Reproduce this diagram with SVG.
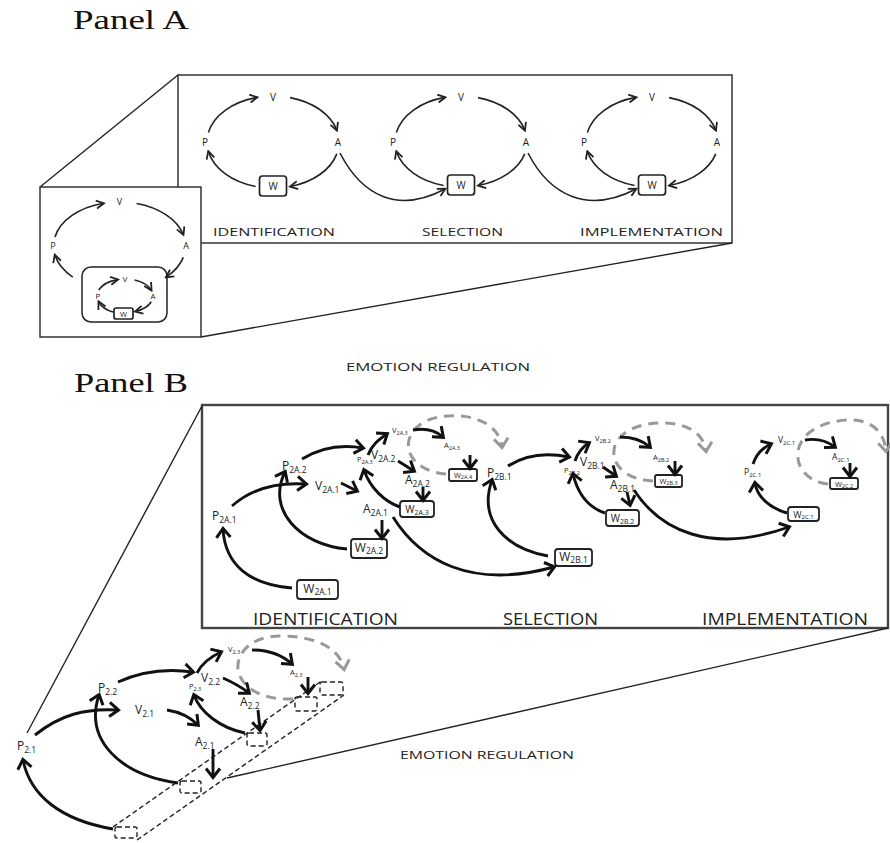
<svg xmlns="http://www.w3.org/2000/svg" width="890" height="843" viewBox="0 0 890 843">
  <style>
    .title { font-family: "Liberation Serif", "Times New Roman", serif; font-size: 27px; fill: #111; }
    .lab { font-family: "Open Sans", "DejaVu Sans", sans-serif; fill: #222; }
    .a10 { font-size: 10px; }
    .a9 { font-size: 9px; }
    .a8 { font-size: 8px; }
    .cap { font-family: "Open Sans", "DejaVu Sans", sans-serif; fill: #222; }
    .m { font-size: 12px; }
    .m tspan { font-size: 8.5px; }
    .n { font-size: 10px; }
    .n tspan { font-size: 7px; }
    .s { font-size: 7.5px; }
    .s tspan { font-size: 5.5px; }
    .frame { fill: #fff; stroke: #333; stroke-width: 1.5; }
    .frameB { fill: #fff; stroke: #444; stroke-width: 2.4; }
    .ray { fill: none; stroke: #222; stroke-width: 1.4; }
    .wa { fill: #fff; stroke: #222; stroke-width: 1.7; }
    .wb { fill: #fff; stroke: #222; stroke-width: 1.8; }
    .ca { fill: none; stroke: #222; stroke-width: 1.6; marker-end: url(#ah); }
    .cb { fill: none; stroke: #111; stroke-width: 2.9; marker-end: url(#chev); }
    .gd { fill: none; stroke: #999; stroke-width: 3; stroke-dasharray: 10 7; marker-end: url(#gchev); }
    .db { fill: none; stroke: #222; stroke-width: 1.4; stroke-dasharray: 5 3; }
  </style>
  <defs>
    <marker id="ah" markerUnits="userSpaceOnUse" viewBox="0 0 10 10" markerWidth="10" markerHeight="10" refX="8" refY="5" orient="auto">
      <path d="M0.8,1 L8.5,5 L0.8,9" fill="none" stroke="#222" stroke-width="1.8"/>
    </marker>
    <marker id="chev" markerUnits="userSpaceOnUse" viewBox="0 0 18 18" markerWidth="18" markerHeight="18" refX="11.5" refY="9" orient="auto">
      <path d="M3,2 L12,9 L3,16" fill="none" stroke="#111" stroke-width="3"/>
    </marker>
    <marker id="gchev" markerUnits="userSpaceOnUse" viewBox="0 0 18 18" markerWidth="18" markerHeight="18" refX="11.5" refY="9" orient="auto">
      <path d="M3,2 L12,9 L3,16" fill="none" stroke="#999" stroke-width="3"/>
    </marker>
  </defs>

  <rect width="890" height="843" fill="#fff"/>

  <!-- ============ PANEL A ============ -->
  <text class="title" x="73" y="29" textLength="116" lengthAdjust="spacingAndGlyphs">Panel A</text>

  <!-- magnified frame and zoom rays -->
  <rect class="frame" x="178" y="75" width="554" height="168"/>
  <line class="ray" x1="40" y1="187" x2="178" y2="75"/>
  <line class="ray" x1="201" y1="337" x2="732" y2="243"/>
  <rect class="frame" x="40" y="187" width="161" height="150"/>

  <!-- nested cycle (overview) -->
  <g id="a-overview">
    <g id="a0-V"><text class="lab a9" x="119.5" y="205" text-anchor="middle">V</text></g>
    <g id="a0-P"><text class="lab a9" x="53" y="249" text-anchor="middle">P</text></g>
    <g id="a0-A"><text class="lab a9" x="186" y="249" text-anchor="middle">A</text></g>
    <g id="a0-inner">
      <rect x="82" y="267" width="85" height="55" rx="9" fill="#fff" stroke="#222" stroke-width="1.5"/>
      <g id="a0i-V"><text class="lab a8" x="125" y="282" text-anchor="middle">V</text></g>
      <g id="a0i-P"><text class="lab a8" x="98" y="299" text-anchor="middle">P</text></g>
      <g id="a0i-A"><text class="lab a8" x="153" y="299" text-anchor="middle">A</text></g>
      <g id="a0i-W">
        <rect class="wa" x="114" y="308" width="19" height="11" rx="2"/>
        <text class="lab" font-size="7.5" x="123.5" y="316.5" text-anchor="middle">W</text>
      </g>
    </g>
  </g>

  <!-- cycle 1 -->
  <g id="a1-V"><text class="lab a10" x="273" y="101" text-anchor="middle">V</text></g>
  <g id="a1-P"><text class="lab a10" x="205" y="146" text-anchor="middle">P</text></g>
  <g id="a1-A"><text class="lab a10" x="338" y="146" text-anchor="middle">A</text></g>
  <g id="a1-W"><rect class="wa" x="259.5" y="176" width="27" height="20" rx="3"/><text class="lab a10" x="273" y="190" text-anchor="middle">W</text></g>

  <!-- cycle 2 -->
  <g id="a2-V"><text class="lab a10" x="461" y="101" text-anchor="middle">V</text></g>
  <g id="a2-P"><text class="lab a10" x="393" y="146" text-anchor="middle">P</text></g>
  <g id="a2-A"><text class="lab a10" x="526" y="146" text-anchor="middle">A</text></g>
  <g id="a2-W"><rect class="wa" x="447.5" y="175" width="27" height="20" rx="3"/><text class="lab a10" x="461" y="189" text-anchor="middle">W</text></g>

  <!-- cycle 3 -->
  <g id="a3-V"><text class="lab a10" x="652" y="101" text-anchor="middle">V</text></g>
  <g id="a3-P"><text class="lab a10" x="584" y="146" text-anchor="middle">P</text></g>
  <g id="a3-A"><text class="lab a10" x="717" y="146" text-anchor="middle">A</text></g>
  <g id="a3-W"><rect class="wa" x="638.5" y="175" width="27" height="20" rx="3"/><text class="lab a10" x="652" y="189" text-anchor="middle">W</text></g>

  <g id="a-captions">
    <text class="cap" font-size="11.5" x="213" y="236" textLength="122" lengthAdjust="spacingAndGlyphs">IDENTIFICATION</text>
    <text class="cap" font-size="11.5" x="422" y="236" textLength="81" lengthAdjust="spacingAndGlyphs">SELECTION</text>
    <text class="cap" font-size="11.5" x="580" y="236" textLength="143" lengthAdjust="spacingAndGlyphs">IMPLEMENTATION</text>
    <text class="cap" font-size="10.5" x="346" y="371" textLength="184" lengthAdjust="spacingAndGlyphs">EMOTION REGULATION</text>
  </g>

  <g id="a-connectors">
    <!-- overview outer loop -->
    <path class="ca" d="M55,236.9 A66,44 0 0 1 103.5,203.3"/>
    <path class="ca" d="M136.6,203.5 A66,44 0 0 1 183.3,234.6"/>
    <path class="ca" d="M183.3,257.4 A66,44 0 0 1 166.2,277.1"/>
    <path class="ca" d="M72.8,277.1 A66,44 0 0 1 54.9,255.1"/>
    <!-- overview inner loop -->
    <path class="ca" d="M98.7,290.2 A28,17 0 0 1 117.8,279.6"/>
    <path class="ca" d="M134.6,280 A28,17 0 0 1 151.3,290.2"/>
    <path class="ca" d="M151.3,301.8 A28,17 0 0 1 135.5,311.5"/>
    <path class="ca" d="M113,312 A28,17 0 0 1 98.7,301.8"/>
    <!-- cycle 1 -->
    <path class="ca" d="M208.4,132.4 A66,46 0 0 1 257,97.4"/>
    <path class="ca" d="M290.1,97.6 A66,46 0 0 1 336.8,130.1"/>
    <path class="ca" d="M336.8,153.9 A66,46 0 0 1 290.4,186.5"/>
    <path class="ca" d="M255.6,186.5 A66,46 0 0 1 208.4,151.6"/>
    <!-- cycle 2 -->
    <path class="ca" d="M396.4,132.4 A66,46 0 0 1 445,97.4"/>
    <path class="ca" d="M478.1,97.6 A66,46 0 0 1 524.8,130.1"/>
    <path class="ca" d="M524.8,153.9 A66,46 0 0 1 478.4,185.5"/>
    <path class="ca" d="M443.6,185.5 A66,46 0 0 1 396.4,151.6"/>
    <!-- cycle 3 -->
    <path class="ca" d="M587.4,132.4 A66,46 0 0 1 636,97.4"/>
    <path class="ca" d="M669.1,97.6 A66,46 0 0 1 715.8,130.1"/>
    <path class="ca" d="M715.8,153.9 A66,46 0 0 1 669.4,185.5"/>
    <path class="ca" d="M634.6,185.5 A66,46 0 0 1 587.4,151.6"/>
    <!-- hand-offs between stages -->
    <path class="ca" d="M340,153 C362,196 398,214 445,189"/>
    <path class="ca" d="M528,153 C550,196 588,214 636,189"/>
  </g>

  <!-- ============ PANEL B ============ -->
  <text class="title" x="74" y="392" textLength="114" lengthAdjust="spacingAndGlyphs">Panel B</text>

  <rect class="frameB" x="202" y="405" width="686" height="223"/>
  <line class="ray" x1="27" y1="733" x2="202" y2="406" stroke-width="1.8"/>
  <line class="ray" x1="227" y1="778" x2="888" y2="628" stroke-width="1.8"/>

  <!-- stage A nodes -->
  <g id="b-P2A1"><text class="lab m" x="212" y="520">P<tspan dy="3">2A.1</tspan></text></g>
  <g id="b-W2A1"><rect class="wb" x="297" y="580" width="41" height="19" rx="3"/><text class="lab m" x="317.5" y="593" text-anchor="middle">W<tspan dy="2">2A.1</tspan></text></g>
  <g id="b-P2A2"><text class="lab m" x="282" y="470">P<tspan dy="3">2A.2</tspan></text></g>
  <g id="b-V2A1"><text class="lab m" x="315" y="490">V<tspan dy="3">2A.1</tspan></text></g>
  <g id="b-A2A1"><text class="lab m" x="363" y="513">A<tspan dy="3">2A.1</tspan></text></g>
  <g id="b-W2A2"><rect class="wb" x="351" y="539" width="36" height="19" rx="3"/><text class="lab m" x="369" y="552" text-anchor="middle">W<tspan dy="2">2A.2</tspan></text></g>
  <g id="b-P2A3"><text class="lab s" x="357" y="462">P<tspan dy="2">2A.3</tspan></text></g>
  <g id="b-V2A2"><text class="lab m" x="371" y="459">V<tspan dy="3">2A.2</tspan></text></g>
  <g id="b-V2A3"><text class="lab s" x="392" y="433">V<tspan dy="2">2A.3</tspan></text></g>
  <g id="b-A2A2"><text class="lab m" x="405" y="484">A<tspan dy="3">2A.2</tspan></text></g>
  <g id="b-W2A3"><rect class="wb" x="400" y="501" width="34" height="16" rx="3"/><text class="lab n" x="417" y="513" text-anchor="middle">W<tspan dy="1.5">2A.3</tspan></text></g>
  <g id="b-A2A3"><text class="lab s" x="444" y="448">A<tspan dy="2">2A.3</tspan></text></g>
  <g id="b-W2A4"><rect class="wb" x="449" y="469" width="28" height="12" rx="2"/><text class="lab s" x="463" y="478" text-anchor="middle">W<tspan dy="1">2A.4</tspan></text></g>

  <!-- stage B nodes -->
  <g id="b-P2B1"><text class="lab m" x="487" y="477">P<tspan dy="3">2B.1</tspan></text></g>
  <g id="b-W2B1"><rect class="wb" x="555" y="549" width="37" height="17" rx="3"/><text class="lab m" x="573.5" y="561" text-anchor="middle">W<tspan dy="2">2B.1</tspan></text></g>
  <g id="b-V2B1"><text class="lab m" x="580" y="466">V<tspan dy="3">2B.1</tspan></text></g>
  <g id="b-P2B2"><text class="lab s" x="564" y="473">P<tspan dy="2">2B.2</tspan></text></g>
  <g id="b-V2B2"><text class="lab s" x="595" y="441">V<tspan dy="2">2B.2</tspan></text></g>
  <g id="b-A2B1"><text class="lab m" x="610" y="489">A<tspan dy="3">2B.1</tspan></text></g>
  <g id="b-W2B2"><rect class="wb" x="606" y="510" width="33" height="16" rx="3"/><text class="lab n" x="622.5" y="522" text-anchor="middle">W<tspan dy="1.5">2B.2</tspan></text></g>
  <g id="b-A2B2"><text class="lab s" x="653" y="460">A<tspan dy="2">2B.2</tspan></text></g>
  <g id="b-W2B3"><rect class="wb" x="655" y="475" width="27" height="12" rx="2"/><text class="lab s" x="668.5" y="484" text-anchor="middle">W<tspan dy="1">2B.3</tspan></text></g>

  <!-- stage C nodes -->
  <g id="b-P2C1"><text class="lab" font-size="8.5" x="744" y="475">P<tspan font-size="6" dy="2">2C.1</tspan></text></g>
  <g id="b-W2C1"><rect class="wb" x="788" y="507" width="31" height="14" rx="3"/><text class="lab" font-size="9" x="803.5" y="517.5" text-anchor="middle">W<tspan font-size="6" dy="1">2C.1</tspan></text></g>
  <g id="b-V2C1"><text class="lab" font-size="8.5" x="778" y="443">V<tspan font-size="6" dy="2">2C.1</tspan></text></g>
  <g id="b-A2C1"><text class="lab" font-size="8.5" x="832" y="460">A<tspan font-size="6" dy="2">2C.1</tspan></text></g>
  <g id="b-W2C2"><rect class="wb" x="830" y="478" width="28" height="11" rx="2"/><text class="lab s" x="844" y="486.5" text-anchor="middle">W<tspan dy="1">2C.2</tspan></text></g>

  <g id="b-captions">
    <text class="cap" font-size="16" x="253" y="625" textLength="145" lengthAdjust="spacingAndGlyphs">IDENTIFICATION</text>
    <text class="cap" font-size="16" x="503" y="625" textLength="95" lengthAdjust="spacingAndGlyphs">SELECTION</text>
    <text class="cap" font-size="16" x="702" y="625" textLength="166" lengthAdjust="spacingAndGlyphs">IMPLEMENTATION</text>
    <text class="cap" font-size="11" x="400" y="759" textLength="174" lengthAdjust="spacingAndGlyphs">EMOTION REGULATION</text>
  </g>

  <!-- overview cluster nodes -->
  <g id="c-P21"><text class="lab m" x="17" y="750">P<tspan dy="3">2.1</tspan></text></g>
  <g id="c-P22"><text class="lab m" x="98" y="692">P<tspan dy="3">2.2</tspan></text></g>
  <g id="c-V21"><text class="lab m" x="135" y="714">V<tspan dy="3">2.1</tspan></text></g>
  <g id="c-P23"><text class="lab s" x="189" y="689">P<tspan dy="2">2.3</tspan></text></g>
  <g id="c-V22"><text class="lab m" x="201" y="682">V<tspan dy="3">2.2</tspan></text></g>
  <g id="c-V23"><text class="lab s" x="228" y="652">V<tspan dy="2">2.3</tspan></text></g>
  <g id="c-A23"><text class="lab s" x="290" y="675">A<tspan dy="2">2.3</tspan></text></g>
  <g id="c-A22"><text class="lab m" x="240" y="706">A<tspan dy="3">2.2</tspan></text></g>
  <g id="c-A21"><text class="lab m" x="195" y="746">A<tspan dy="3">2.1</tspan></text></g>
  <g id="c-slots">
    <path class="db" d="M113,827 L320,682 M137,840 L344,695"/>
    <rect id="c-W1" class="db" x="115" y="827" width="22" height="11" rx="2" fill="#fff"/>
    <rect id="c-W2" class="db" x="180" y="781" width="21" height="12" rx="2" fill="#fff"/>
    <rect id="c-W3" class="db" x="247" y="733" width="20" height="13" rx="2" fill="#fff"/>
    <rect id="c-W4" class="db" x="295" y="697" width="22" height="14" rx="2" fill="#fff"/>
    <rect id="c-W5" class="db" x="320" y="682" width="23" height="13" rx="2" fill="#fff"/>
  </g>

  <g id="b-connectors">
    <!-- future steps (grey dashed) -->
    <path class="gd" d="M446,474 C420,472 405,456 409,440 C414,421 438,414 460,416 C485,418 500,430 502,447"/>
    <path class="gd" d="M653,481 C630,480 612,468 614,450 C616,432 640,422 665,423 C690,424 704,435 706,451"/>
    <path class="gd" d="M828,484 C810,482 796,470 798,452 C800,432 825,420 850,420 C870,420 884,430 886,451"/>
    <path class="gd" d="M293,699 C265,700 242,690 238,670 C236,650 255,636 280,636 C315,636 340,648 344,669"/>

    <!-- stage A -->
    <path class="cb" d="M292,588 C250,585 225,565 223,529"/>
    <path class="cb" d="M232,506 C250,490 275,482 306,484"/>
    <path class="cb" d="M347,549 C300,545 266,510 285,472"/>
    <path class="cb" d="M341,483 L357,491"/>
    <path class="cb" d="M382,520 L382,538"/>
    <path class="cb" d="M302,459 C320,448 340,444 363,448"/>
    <path class="cb" d="M368,455 C372,445 378,440 387,434"/>
    <path class="cb" d="M413,430 C425,428 435,430 443,437"/>
    <path class="cb" d="M398,461 L414,471"/>
    <path class="cb" d="M423,487 L423,500"/>
    <path class="cb" d="M400,507 C385,502 370,488 364,470"/>
    <path class="cb" d="M470,455 L470,468"/>
    <path class="cb" d="M393,517 C420,560 470,590 554,567"/>

    <!-- stage B -->
    <path class="cb" d="M548,556 C505,548 478,520 492,480"/>
    <path class="cb" d="M508,466 C525,455 545,452 569,457"/>
    <path class="cb" d="M575,461 C578,452 582,447 589,443"/>
    <path class="cb" d="M620,437 C632,437 642,440 650,447"/>
    <path class="cb" d="M603,467 L616,476"/>
    <path class="cb" d="M627,492 L630,505"/>
    <path class="cb" d="M605,513 C590,508 578,495 573,474"/>
    <path class="cb" d="M675,461 L675,474"/>
    <path class="cb" d="M634,490 C660,530 710,555 789,527"/>

    <!-- stage C -->
    <path class="cb" d="M753,464 C756,455 762,448 771,444"/>
    <path class="cb" d="M805,440 C817,438 827,441 835,447"/>
    <path class="cb" d="M850,463 L850,476"/>
    <path class="cb" d="M787,513 C770,508 757,497 755,483"/>

    <!-- overview cluster -->
    <path class="cb" d="M113,829 C60,820 30,795 23,760"/>
    <path class="cb" d="M35,735 C60,715 85,708 118,710"/>
    <path class="cb" d="M178,783 C120,775 84,740 99,695"/>
    <path class="cb" d="M118,682 C140,672 165,668 193,672"/>
    <path class="cb" d="M167,710 C180,712 190,717 198,725"/>
    <path class="cb" d="M197,673 C202,663 210,657 221,652"/>
    <path class="cb" d="M252,650 C268,650 282,655 292,664"/>
    <path class="cb" d="M308,677 L308,693"/>
    <path class="cb" d="M223,678 C232,682 240,686 249,693"/>
    <path class="cb" d="M258,710 L260,730"/>
    <path class="cb" d="M245,733 C220,728 200,712 194,695"/>
    <path class="cb" d="M213,749 L213,777"/>
  </g>
</svg>
